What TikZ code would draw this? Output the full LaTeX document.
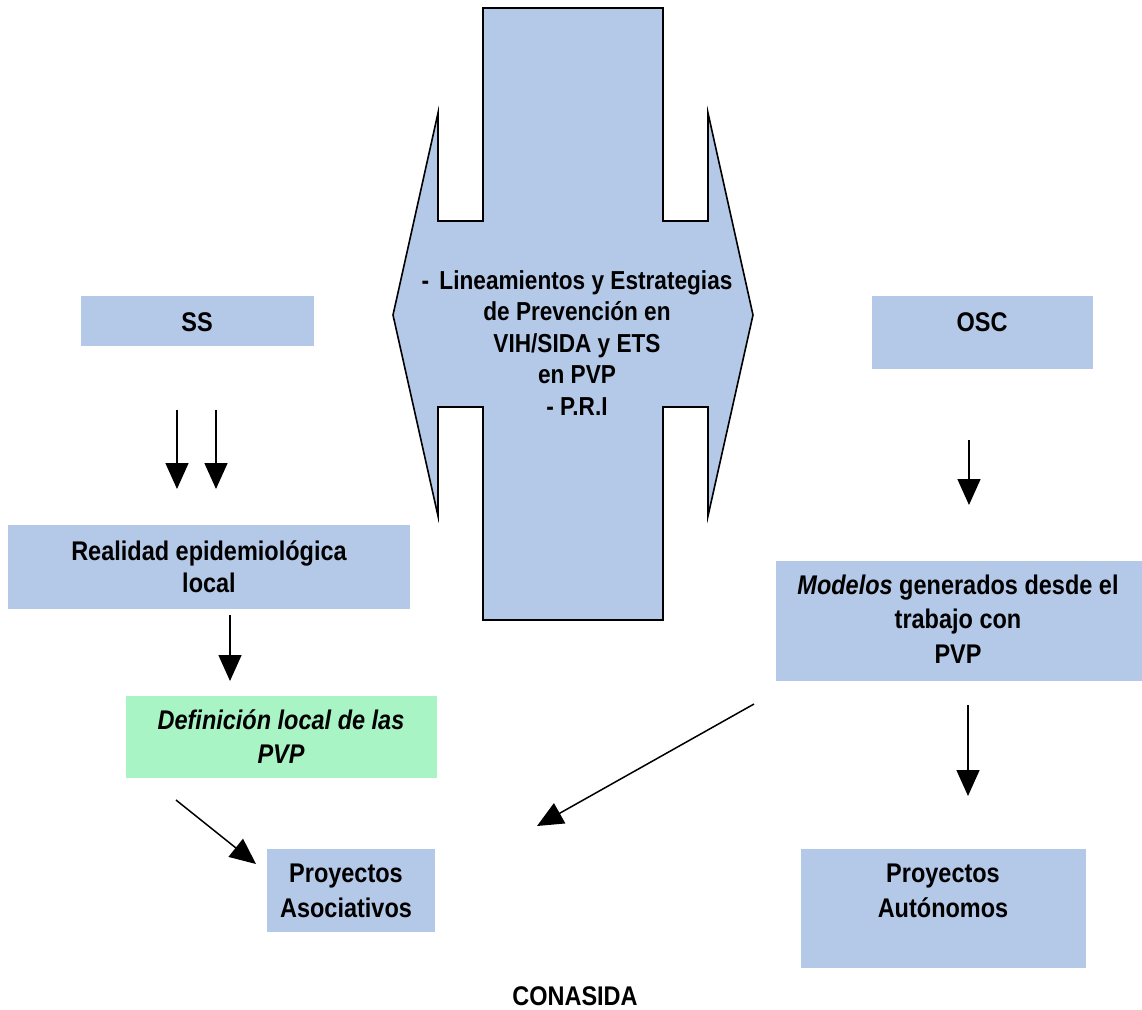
\documentclass[tikz,border=0pt]{standalone}
\usepackage{fontspec}
\setmainfont{Liberation Sans}[FakeStretch=0.87]
\usetikzlibrary{arrows.meta}
\definecolor{boxblue}{RGB}{180,200,231}
\definecolor{boxgreen}{RGB}{168,244,196}
\tikzset{
  box/.style={fill=boxblue, draw=none},
  lbl/.style={font=\fontsize{27}{34}\selectfont\bfseries, align=center, inner sep=0pt},
  arr/.style={line width=1.5pt, -{Triangle[width=23pt,length=26pt]}},
}
\begin{document}
\begin{tikzpicture}[x=1pt,y=-1pt]
\useasboundingbox (0,0) rectangle (1142,1009);
% central cross shape
\draw[fill=boxblue, line width=1.6pt, line join=miter]
  (483,8) -- (663,8) -- (663,221) -- (708,221) -- (708,113) -- (753,315)
  -- (708,516) -- (708,407) -- (663,407) -- (663,620) -- (483,620)
  -- (483,407) -- (438,407) -- (438,516) -- (393,315) -- (438,113)
  -- (438,221) -- (483,221) -- cycle;
\node[lbl, font=\fontsize{26}{31.5}\selectfont\bfseries] (center) at (577,343) {-\hspace{0.4em}Lineamientos y Estrategias\\de Prevención en\\VIH/SIDA y ETS\\en PVP\\- P.R.I};

% boxes
\fill[box] (81,296) rectangle (314,346);
\node[lbl] (ss) at (197,322) {SS};
\fill[box] (872,296) rectangle (1093,369);
\node[lbl] (osc) at (982,322) {OSC};
\fill[box] (8,525) rectangle (410,609);
\node[lbl, font=\fontsize{27}{32}\selectfont\bfseries] (real) at (209,567) {Realidad epidemiológica\\local};
\fill[boxgreen] (126,696) rectangle (437,778);
\node[lbl, font=\fontsize{27}{34}\selectfont\bfseries\itshape] (def) at (281,737) {Definición local de las\\PVP};
\fill[box] (267,849) rectangle (435,932);
\node[lbl, font=\fontsize{27}{35}\selectfont\bfseries] (asoc) at (346,891) {Proyectos\\Asociativos};
\fill[box] (776,561) rectangle (1142,681);
\node[lbl, font=\fontsize{27}{34.5}\selectfont\bfseries] (mod) at (958,619) {\textit{Modelos} generados desde el\\trabajo con\\PVP};
\fill[box] (801,849) rectangle (1086,968);
\node[lbl, font=\fontsize{27}{35}\selectfont\bfseries] (aut) at (943,891) {Proyectos\\Autónomos};
\node[lbl] (con) at (575,996) {CONASIDA};

% connector end points
\coordinate (a1s) at (177,410); \coordinate (a1e) at (177,489);
\coordinate (a2s) at (216,410); \coordinate (a2e) at (216,489);
\coordinate (a3s) at (230,615); \coordinate (a3e) at (230,681);
\coordinate (a4s) at (969,440); \coordinate (a4e) at (969,505);
\coordinate (a5s) at (968,705); \coordinate (a5e) at (968,796);
\coordinate (a6s) at (176,800); \coordinate (a6e) at (256,864);
\coordinate (a7s) at (754,704); \coordinate (a7e) at (537,826);

\draw[arr] (a1s) -- (a1e);
\draw[arr] (a2s) -- (a2e);
\draw[arr] (a3s) -- (a3e);
\draw[arr] (a4s) -- (a4e);
\draw[arr] (a5s) -- (a5e);
\draw[arr] (a6s) -- (a6e);
\draw[arr] (a7s) -- (a7e);
\end{tikzpicture}
\end{document}
